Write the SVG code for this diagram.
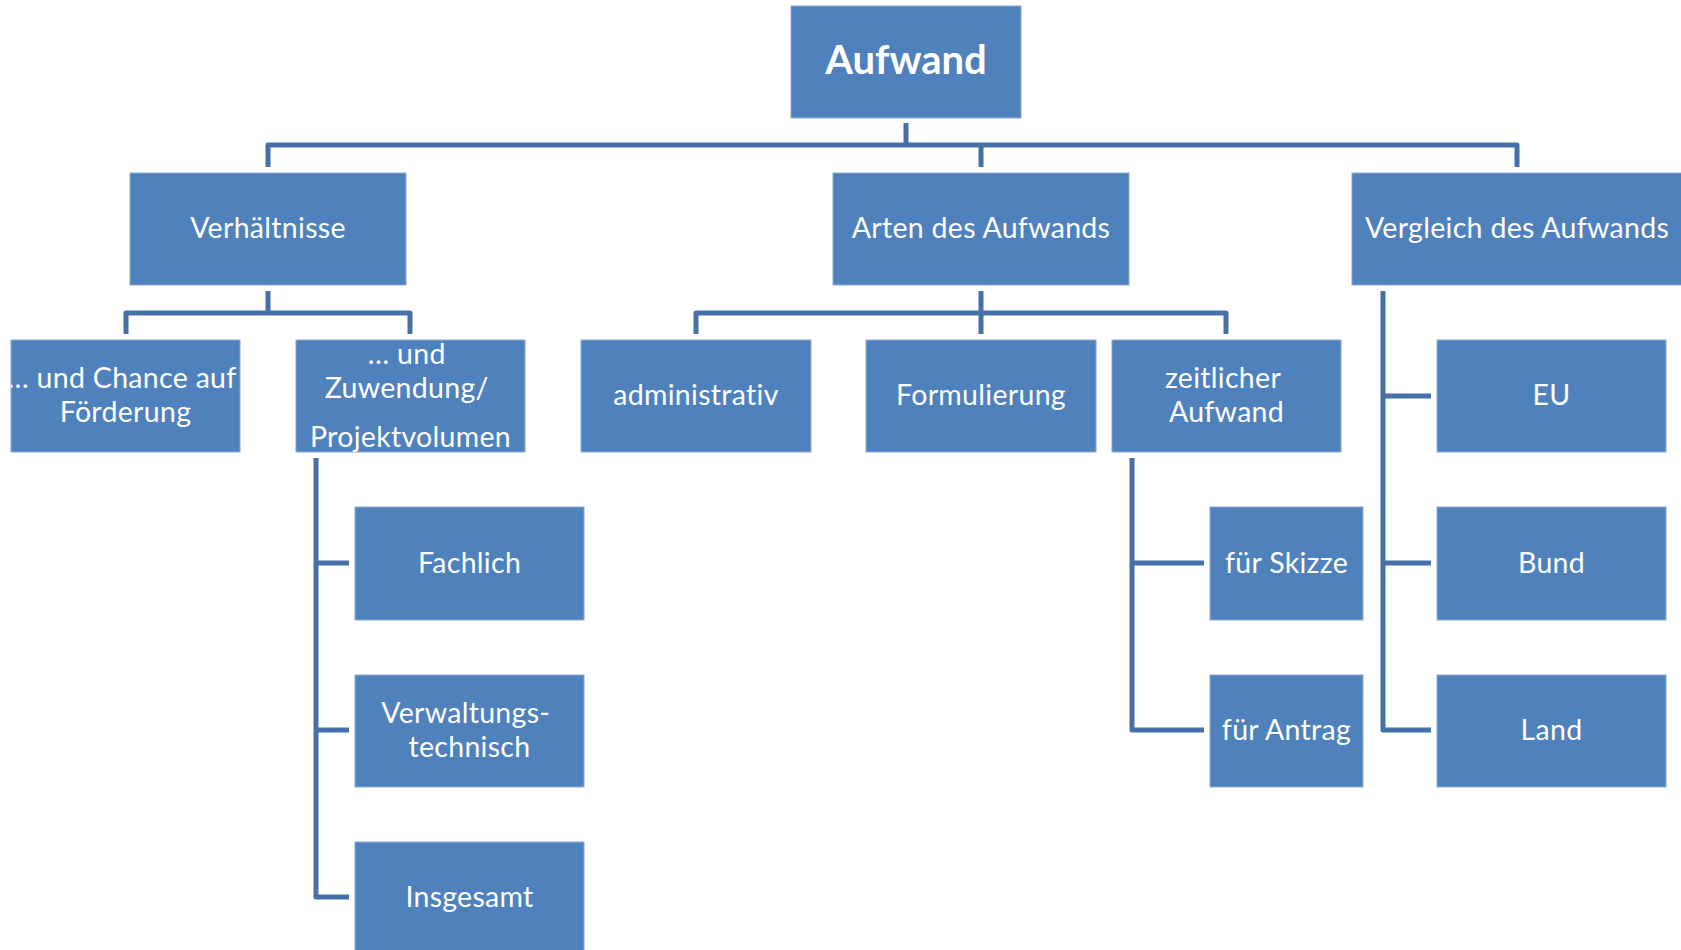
<svg xmlns="http://www.w3.org/2000/svg" width="1681" height="950" viewBox="0 0 1681 950">
  <style>
    .box { fill: #4F81BD; stroke: #8DAAD4; stroke-width: 1; }
    .lbl { fill: #FFFFFF; font-family: Lato, "Open Sans", "Liberation Sans", sans-serif; font-size: 28.5px; letter-spacing: 0.3px; text-anchor: middle; }
    .root { font-size: 40px; font-weight: bold; letter-spacing: 0; }
    .conn { fill: none; stroke: #4570A8; stroke-width: 5; stroke-linejoin: round; }
  </style>
  <defs>
    <clipPath id="clipChance"><rect x="11" y="340" width="229" height="112"/></clipPath>
    <clipPath id="clipZuwendung"><rect x="296" y="340" width="229" height="112"/></clipPath>
  </defs>

  <!-- connectors -->
  <g id="connectors" class="conn">
    <!-- Aufwand to second level -->
    <path d="M906 123 V145"/>
    <path d="M268 167 V145 H1517 V167"/>
    <path d="M981 145 V167"/>
    <!-- Verhältnisse -->
    <path d="M268 291 V313"/>
    <path d="M126 334 V313 H410 V334"/>
    <!-- Arten des Aufwands -->
    <path d="M981 291 V334"/>
    <path d="M696 334 V313 H1226 V334"/>
    <!-- Zuwendung / Projektvolumen -->
    <path d="M316 458 V897 H349"/>
    <path d="M316 563 H349"/>
    <path d="M316 730 H349"/>
    <!-- zeitlicher Aufwand -->
    <path d="M1132 458 V730 H1204"/>
    <path d="M1132 563 H1204"/>
    <!-- Vergleich des Aufwands -->
    <path d="M1383 291 V730 H1431"/>
    <path d="M1383 396 H1431"/>
    <path d="M1383 563 H1431"/>
  </g>

  <!-- root -->
  <g id="n-aufwand">
    <rect class="box" x="791" y="6" width="230" height="112"/>
    <text class="lbl root" x="906" y="74">Aufwand</text>
  </g>

  <!-- second level -->
  <g id="n-verhaeltnisse">
    <rect class="box" x="130" y="173" width="276" height="112"/>
    <text class="lbl" x="268" y="238">Verhältnisse</text>
  </g>
  <g id="n-arten">
    <rect class="box" x="833" y="173" width="296" height="112"/>
    <text class="lbl" x="981" y="238">Arten des Aufwands</text>
  </g>
  <g id="n-vergleich">
    <rect class="box" x="1352" y="173" width="330" height="112"/>
    <text class="lbl" x="1517" y="238">Vergleich des Aufwands</text>
  </g>

  <!-- third level -->
  <g id="n-chance">
    <rect class="box" x="11" y="340" width="229" height="112"/>
    <text class="lbl" clip-path="url(#clipChance)">
      <tspan x="125.5" y="388">… und Chance auf</tspan>
      <tspan x="125.5" y="422">Förderung</tspan>
    </text>
  </g>
  <g id="n-zuwendung">
    <rect class="box" x="296" y="340" width="229" height="112"/>
    <text class="lbl" clip-path="url(#clipZuwendung)">
      <tspan x="410.5" y="364">… und</tspan>
      <tspan x="410.5" y="398">Zuwendung/</tspan>
      <tspan x="410.5" y="447">Projektvolumen</tspan>
    </text>
  </g>
  <g id="n-administrativ">
    <rect class="box" x="581" y="340" width="230" height="112"/>
    <text class="lbl" x="696" y="405">administrativ</text>
  </g>
  <g id="n-formulierung">
    <rect class="box" x="866" y="340" width="230" height="112"/>
    <text class="lbl" x="981" y="405">Formulierung</text>
  </g>
  <g id="n-zeitlich">
    <rect class="box" x="1112" y="340" width="229" height="112"/>
    <text class="lbl">
      <tspan x="1226.5" y="388">zeitlicher</tspan>
      <tspan x="1226.5" y="422">Aufwand</tspan>
    </text>
  </g>
  <g id="n-eu">
    <rect class="box" x="1437" y="340" width="229" height="112"/>
    <text class="lbl" x="1551.5" y="405">EU</text>
  </g>

  <!-- fourth level and below -->
  <g id="n-fachlich">
    <rect class="box" x="355" y="507" width="229" height="113"/>
    <text class="lbl" x="469.5" y="573">Fachlich</text>
  </g>
  <g id="n-verwaltung">
    <rect class="box" x="355" y="675" width="229" height="112"/>
    <text class="lbl">
      <tspan x="469.5" y="723">Verwaltungs-</tspan>
      <tspan x="469.5" y="757">technisch</tspan>
    </text>
  </g>
  <g id="n-insgesamt">
    <rect class="box" x="355" y="842" width="229" height="112"/>
    <text class="lbl" x="469.5" y="907">Insgesamt</text>
  </g>
  <g id="n-skizze">
    <rect class="box" x="1210" y="507" width="153" height="113"/>
    <text class="lbl" x="1286.5" y="573">für Skizze</text>
  </g>
  <g id="n-antrag">
    <rect class="box" x="1210" y="675" width="153" height="112"/>
    <text class="lbl" x="1286.5" y="740">für Antrag</text>
  </g>
  <g id="n-bund">
    <rect class="box" x="1437" y="507" width="229" height="113"/>
    <text class="lbl" x="1551.5" y="573">Bund</text>
  </g>
  <g id="n-land">
    <rect class="box" x="1437" y="675" width="229" height="112"/>
    <text class="lbl" x="1551.5" y="740">Land</text>
  </g>
</svg>
